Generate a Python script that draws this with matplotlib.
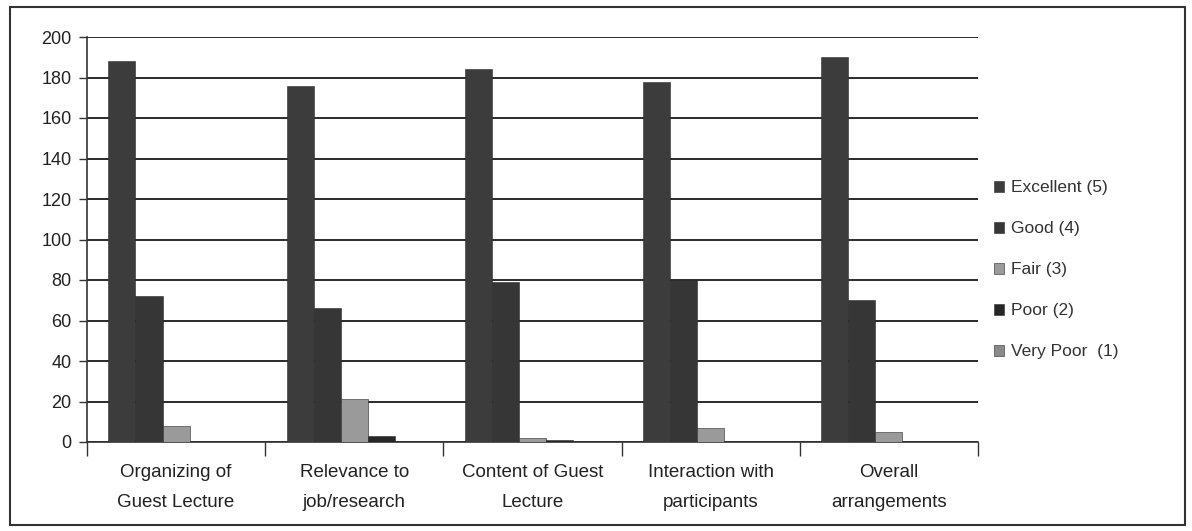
import numpy as np
import matplotlib.pyplot as plt

categories = ['Organizing of\nGuest Lecture', 'Relevance to\njob/research', 'Content of Guest\nLecture',
              'Interaction with\nparticipants', 'Overall\narrangements']
series = ['Excellent (5)', 'Good (4)', 'Fair (3)', 'Poor (2)', 'Very Poor  (1)']
excellent = [188, 176, 184, 178, 190]
good = [72, 66, 79, 80, 70]
fair = [8, 21, 2, 7, 5]
poor = [0, 3, 1, 0, 0]
very_poor = [0, 0, 0, 0, 0]

values = [excellent, good, fair, poor, very_poor]
colors = ['#3c3c3c', '#363636', '#9a9a9a', '#262626', '#8a8a8a']

plt.rcParams['font.family'] = ['Liberation Sans', 'DejaVu Sans']

fig = plt.figure(figsize=(11.92, 5.31), dpi=100)
ax = fig.add_axes([87/1192, 1 - 442/531, (978 - 87)/1192, (442 - 37)/531])

x = np.arange(len(categories))
w = 0.152
for i, (vals, name, c) in enumerate(zip(values, series, colors)):
    ax.bar(x + (i - 2) * w, vals, w, color=c, label=name, zorder=3, edgecolor='#2a2a2a', linewidth=0.4)

ax.set_ylim(0, 200)
ax.set_xlim(-0.5, len(categories) - 0.5)
ax.set_yticks(range(0, 201, 20))
ax.yaxis.grid(True, color='#2b2b2b', linewidth=1.4, zorder=0)
ax.tick_params(axis='y', labelsize=13, length=6, width=1, color='#333', pad=5, labelcolor='#222')

ax.set_xticks(x)
ax.set_xticklabels(categories, fontsize=13.5, linespacing=2.0, color='#222')
ax.tick_params(axis='x', length=0, pad=16)
ax.set_xticks(np.arange(-0.5, len(categories)), minor=True)
ax.tick_params(axis='x', which='minor', length=10, width=1, color='#333')

for s in ['top', 'right']:
    ax.spines[s].set_visible(False)
ax.spines['left'].set_color('#333')
ax.spines['bottom'].set_color('#333')
ax.spines['left'].set_linewidth(1.2)
ax.spines['bottom'].set_linewidth(1.2)

leg = ax.legend(loc='center left', bbox_to_anchor=(1.0, 0.425), frameon=False, fontsize=12.5,
                handlelength=0.6, handleheight=0.6, handletextpad=0.4, labelspacing=1.5)
for t in leg.get_texts():
    t.set_color('#333')

# outer frame around the whole chart
fig.patches.append(plt.Rectangle((10/1192, 6/531), 1175/1192, 518/531, transform=fig.transFigure,
                                 fill=False, edgecolor='#333', linewidth=1.5))

fig.savefig('out.png', dpi=100)
